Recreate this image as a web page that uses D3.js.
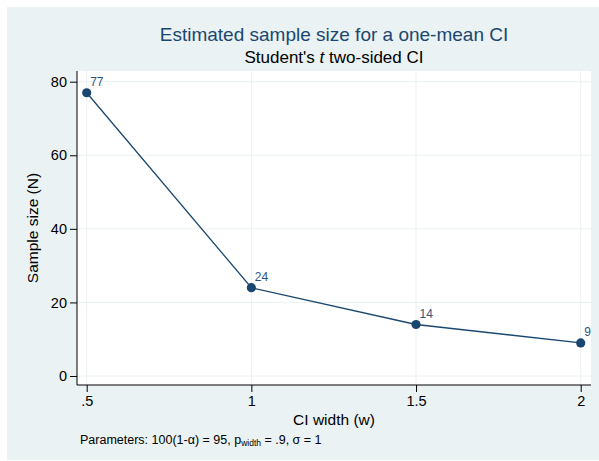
<!DOCTYPE html>
<html>
<head>
<meta charset="utf-8">
<script src="https://cdn.jsdelivr.net/npm/d3@7"></script>
<style>
    body { margin: 0; background: #fff; }
    text { font-family: "Liberation Sans", Arial, sans-serif; }
</style>
</head>
<body>
<div id="chartContainer"></div>
<script>
// Chart data
const widths = [0.5, 1, 1.5, 2];
const sampleSizes = [77, 24, 14, 9];
const xTickValues = [0.5, 1, 1.5, 2];
const xTickLabels = [".5", "1", "1.5", "2"];
const yTickValues = [0, 20, 40, 60, 80];

const W = 599, H = 461;
const navy = "#1a476f";
const bg = "#eaf2f3";

// Plot region (Stata-style frame)
const plot = { left: 77, right: 591, top: 71, bottom: 385 };

const svg = d3.select("#chartContainer").append("svg")
    .attr("width", W)
    .attr("height", H);

// Outer graph region
svg.append("rect")
    .attr("x", 7).attr("y", 7)
    .attr("width", W - 7).attr("height", H - 8)
    .attr("fill", bg);

// White plot region
svg.append("rect")
    .attr("x", plot.left).attr("y", plot.top)
    .attr("width", plot.right - plot.left)
    .attr("height", plot.bottom - plot.top)
    .attr("fill", "#fff");

// Scales
const x = d3.scaleLinear().domain([0.5, 2]).range([86.7, 580.7]);
const y = d3.scaleLinear().domain([0, 80]).range([376, 81.7]);

// Gridlines
svg.append("g").selectAll("line")
    .data(yTickValues).enter().append("line")
    .attr("x1", plot.left).attr("x2", plot.right)
    .attr("y1", d => y(d)).attr("y2", d => y(d))
    .attr("stroke", bg).attr("stroke-width", 1);

svg.append("g").selectAll("line")
    .data(xTickValues).enter().append("line")
    .attr("x1", d => x(d)).attr("x2", d => x(d))
    .attr("y1", plot.top).attr("y2", plot.bottom)
    .attr("stroke", bg).attr("stroke-width", 1);

// Axes
const yAxis = d3.axisLeft(y)
    .tickValues(yTickValues)
    .tickSize(7)
    .tickPadding(3)
    .tickFormat(d => d);

const yAxisG = svg.append("g")
    .attr("transform", `translate(${plot.left}, 0)`)
    .call(yAxis);

const xAxis = d3.axisBottom(x)
    .tickValues(xTickValues)
    .tickSize(7)
    .tickPadding(4)
    .tickFormat((d, i) => xTickLabels[i]);

const xAxisG = svg.append("g")
    .attr("transform", `translate(0, ${plot.bottom})`)
    .call(xAxis);

[yAxisG, xAxisG].forEach(g => {
    g.select(".domain").remove();
    g.selectAll(".tick line").attr("stroke", "#000");
    g.selectAll(".tick text")
        .attr("fill", "#000")
        .style("font-size", "14.5px")
        .style("font-family", "'Liberation Sans', Arial, sans-serif");
});

// Axis lines
svg.append("line")
    .attr("x1", plot.left).attr("x2", plot.left)
    .attr("y1", plot.top).attr("y2", plot.bottom)
    .attr("stroke", "#000").attr("stroke-width", 1);
svg.append("line")
    .attr("x1", plot.left).attr("x2", plot.right)
    .attr("y1", plot.bottom).attr("y2", plot.bottom)
    .attr("stroke", "#000").attr("stroke-width", 1);

// Line and markers
const points = widths.map((w, i) => ({ w: w, n: sampleSizes[i] }));

const line = d3.line()
    .x(d => x(d.w))
    .y(d => y(d.n));

svg.append("path")
    .datum(points)
    .attr("d", line)
    .attr("fill", "none")
    .attr("stroke", navy)
    .attr("stroke-width", 1.3);

svg.append("g").selectAll("circle")
    .data(points).enter().append("circle")
    .attr("cx", d => x(d.w))
    .attr("cy", d => y(d.n))
    .attr("r", 4.6)
    .attr("fill", navy);

svg.append("g").selectAll("text")
    .data(points).enter().append("text")
    .attr("x", d => x(d.w) + 3.5)
    .attr("y", d => y(d.n) - 6.5)
    .attr("fill", "#2f557f")
    .style("font-size", "12px")
    .text(d => d.n);

// Titles
const cx = (plot.left + plot.right) / 2;

svg.append("text")
    .attr("x", cx).attr("y", 41)
    .attr("text-anchor", "middle")
    .attr("fill", navy)
    .style("font-size", "19px")
    .text("Estimated sample size for a one-mean CI");

const sub = svg.append("text")
    .attr("x", cx).attr("y", 63)
    .attr("text-anchor", "middle")
    .attr("fill", "#000")
    .style("font-size", "17px");
sub.append("tspan").text("Student's ");
sub.append("tspan").style("font-style", "italic").text("t");
sub.append("tspan").text(" two-sided CI");

// Axis titles
svg.append("text")
    .attr("x", cx).attr("y", 425)
    .attr("text-anchor", "middle")
    .attr("fill", "#000")
    .style("font-size", "15.5px")
    .text("CI width (w)");

svg.append("text")
    .attr("transform", `translate(38, ${(plot.top + plot.bottom) / 2}) rotate(-90)`)
    .attr("text-anchor", "middle")
    .attr("fill", "#000")
    .style("font-size", "15.5px")
    .text("Sample size (N)");

// Note
const note = svg.append("text")
    .attr("x", 80).attr("y", 444)
    .attr("fill", "#000")
    .style("font-size", "12.5px");
note.append("tspan").text("Parameters: 100(1-\u03b1) = 95, p");
note.append("tspan").attr("dy", 2).style("font-size", "8.5px").text("width");
note.append("tspan").attr("dy", -2).text(" = .9, \u03c3 = 1");
</script>
</body>
</html>
